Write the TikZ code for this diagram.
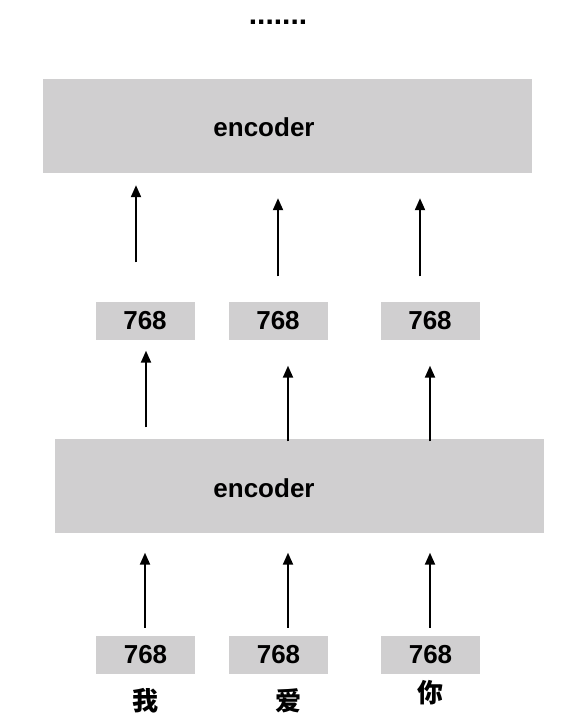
\documentclass[tikz,border=0pt]{standalone}
\usepackage{fontspec}
\setmainfont{Liberation Sans}
\newfontfamily\cjk{Noto Sans CJK SC}
\usetikzlibrary{arrows.meta,shapes}
\definecolor{boxgray}{HTML}{D0CFD0}
\tikzstyle{layer}=[fill=boxgray,minimum width=489pt,minimum height=94pt,inner sep=0pt]
\tikzstyle{vector}=[fill=boxgray,minimum width=99pt,minimum height=38pt,inner sep=0pt,font=\fontsize{26}{30}\selectfont\bfseries]
\tikzstyle{label}=[inner sep=0pt,font=\fontsize{26}{30}\selectfont\bfseries]
\tikzstyle{word}=[inner sep=0pt,font=\fontsize{26}{30}\selectfont\cjk\bfseries]
\tikzstyle{arrow}=[draw,line width=2pt,-{Triangle[width=10pt,length=12pt]}]

\begin{document}
\begin{tikzpicture}[x=1pt,y=-1pt]
    \useasboundingbox (0,0) rectangle (581,718);
    % First we draw the two encoder layers
    \node[layer] (enc2) at (287.5,126) {};
    \node[layer] (enc1) at (299.5,485.5) {};
    \node[label] (enc2text) at (264,127) {encoder};
    \node[label] (enc1text) at (264,488) {encoder};
    \node[label,anchor=base,font=\fontsize{30}{34}\selectfont\bfseries] (dots) at (278,24) {.......};

    % Then the 768 vectors, input row and middle row
    \foreach \pos/\name in {{(145.5,655)/in1}, {(278.5,655)/in2}, {(430.5,655)/in3}, {(145,320.5)/m1}, {(278,320.5)/m2}, {(430,320.5)/m3}}
        \node[vector] (\name) at \pos {768};

    % The words under the input vectors
    \foreach \pos/\name/\txt in {{(145,701)/w1/我}, {(288,701)/w2/爱}, {(430,693)/w3/你}}
        \node[word] (\name) at \pos {\txt};

    % Connect vectors and layers with arrows
    \foreach \source/\dest/\dx/\sa/\sb in {in1/enc1/-0.5/8/20, in2/enc1/9.5/8/20, in3/enc1/-0.5/8/20, m1/enc2/-9/39/12, m2/enc2/0/25/25, m3/enc2/-10/25/25}
        \path[arrow,shorten <=\sa pt,shorten >=\sb pt] ([xshift=\dx pt]\source.north) -- ([xshift=\dx pt]\source.north |- \dest.south);
    \foreach \source/\dest/\dx/\sa/\sb in {enc1/m1/1/11/11, enc1/m2/10/-3/26, enc1/m3/0/-3/26}
        \path[arrow,shorten <=\sa pt,shorten >=\sb pt] ([xshift=\dx pt]\dest.south |- \source.north) -- ([xshift=\dx pt]\dest.south);
\end{tikzpicture}
\end{document}
